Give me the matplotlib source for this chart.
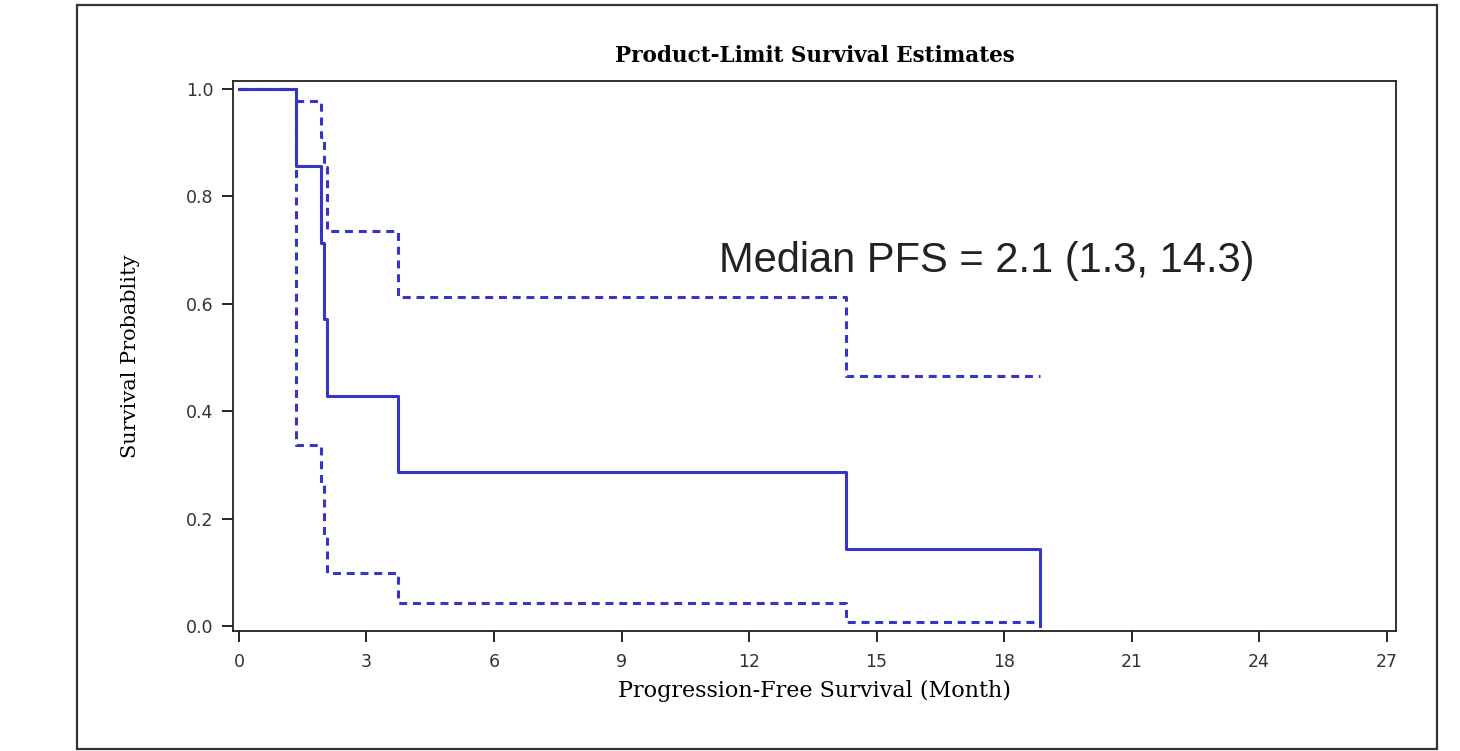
import matplotlib
matplotlib.use('Agg')
import matplotlib.pyplot as plt
from matplotlib.patches import Rectangle

# Kaplan-Meier step values
times = [0.0, 1.35, 1.93, 2.0, 2.06, 3.73, 14.27, 18.85]
surv = [1.0, 0.857, 0.714, 0.571, 0.429, 0.286, 0.143, 0.0]
upper = [1.0, 0.978, 0.91, 0.855, 0.735, 0.613, 0.466, 0.466]
lower = [1.0, 0.337, 0.266, 0.166, 0.099, 0.042, 0.008, 0.008]

xticks = [0, 3, 6, 9, 12, 15, 18, 21, 24, 27]
yticks = [0.0, 0.2, 0.4, 0.6, 0.8, 1.0]

line_col = '#3535c8'

fig = plt.figure(figsize=(14.6, 7.51), dpi=100)
ax = fig.add_axes([0.1596, 0.1598, 0.7966, 0.7323])

# outer frame around the whole graphic
fig.patches.append(Rectangle((77 / 1460, 1 - 749 / 751), (1437 - 77) / 1460, (749 - 5) / 751,
                             transform=fig.transFigure, fill=False,
                             edgecolor='#333333', linewidth=1.6))

ax.step(times, upper, where='post', color=line_col, linewidth=2.2,
        linestyle=(0, (2.6, 1.9)))
ax.step(times, lower, where='post', color=line_col, linewidth=2.2,
        linestyle=(0, (2.6, 1.9)))
ax.step(times, surv, where='post', color=line_col, linewidth=2.2)

ax.set_xlim(-0.14, 27.22)
ax.set_ylim(-0.0093, 1.015)
ax.set_xticks(xticks)
ax.set_yticks(yticks)
ax.set_xticklabels([str(t) for t in xticks])
ax.set_yticklabels([f'{t:.1f}' for t in yticks])
ax.tick_params(direction='out', length=8, width=1.2, labelsize=12.5,
               labelcolor='#333333')
ax.tick_params(axis='x', pad=8)
ax.tick_params(axis='y', pad=6)
for lab in ax.get_xticklabels() + ax.get_yticklabels():
    lab.set_family('DejaVu Sans')
for s in ax.spines.values():
    s.set_linewidth(1.3)
    s.set_color('#222222')

ax.set_title('Product-Limit Survival Estimates', family='DejaVu Serif',
             fontweight='bold', fontsize=15.5, pad=14)
ax.set_xlabel('Progression-Free Survival (Month)', family='DejaVu Serif',
              fontsize=16, labelpad=6)
ax.set_ylabel('Survival Probablity', family='DejaVu Serif', fontsize=15,
              labelpad=33)

ax.text(11.3, 0.68, 'Median PFS = 2.1 (1.3, 14.3)', family='Liberation Sans',
        fontsize=30, color='#222222', va='center', ha='left')

fig.savefig('out.png', dpi=100)
